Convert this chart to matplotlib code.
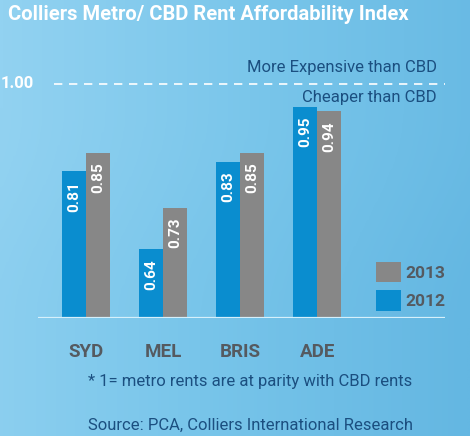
import matplotlib
matplotlib.use("Agg")
import matplotlib.pyplot as plt
import numpy as np
from matplotlib.colors import LinearSegmentedColormap

cities = ["SYD", "MEL", "BRIS", "ADE"]
idx_2012 = [0.81, 0.64, 0.83, 0.95]
idx_2013 = [0.85, 0.73, 0.85, 0.94]
parity = 1.00

blue = "#0a8dcf"
grey = "#878787"
navy = "#1b4f80"
label_grey = "#555a60"

plt.rcParams["font.family"] = ["Roboto", "DejaVu Sans"]

fig = plt.figure(figsize=(4.7, 4.36), dpi=100)

# gradient background
bg = fig.add_axes([0, 0, 1, 1], zorder=-1)
cmap = LinearSegmentedColormap.from_list("bg", ["#92d2f1", "#78c5ea", "#64b7e2"])
grad = np.linspace(0, 1, 256).reshape(1, -1)
grad = np.vstack([grad, grad + 0.15])
bg.imshow(grad, aspect="auto", cmap=cmap, extent=[0, 1, 0, 1], vmin=0, vmax=1.15)
bg.axis("off")

ax = fig.add_axes([38 / 470, 118 / 436, 407 / 470, 278 / 436])
ax.patch.set_alpha(0)
x = np.arange(len(cities))
w = 0.31
b12 = ax.bar(x - w / 2, idx_2012, w, color=blue, label="2012", zorder=2)
b13 = ax.bar(x + w / 2, idx_2013, w, color=grey, label="2013", zorder=2)

for bars, vals in [(b12, idx_2012), (b13, idx_2013)]:
    for r, v in zip(bars, vals):
        ax.annotate(f"{v:.2f}", (r.get_x() + r.get_width() / 2, v),
                    xytext=(0, -7), textcoords="offset points",
                    rotation=90, ha="center", va="top", color="white",
                    fontsize=11, fontweight="bold", zorder=3)

ax.set_xlim(-0.623, 4.66)
ax.set_ylim(0.49, 1.0957)
ax.axhline(parity, xmin=0.04, xmax=1.0, color="white", lw=1.2,
           dashes=(5, 4), zorder=1)
ax.axhline(0.49, color="#d6f0fb", lw=1.6, zorder=4)
ax.text(-0.67, parity, "1.00", ha="right", va="center", color="white",
        fontsize=12, fontweight="bold")
ax.text(4.55, parity + 0.035, "More Expensive than CBD", ha="right",
        va="center", color=navy, fontsize=12)
ax.text(4.55, parity - 0.03, "Cheaper than CBD", ha="right",
        va="center", color=navy, fontsize=12)

ax.set_xticks(x)
ax.set_xticklabels(cities, fontsize=13.5, fontweight="bold", color=label_grey)
ax.tick_params(axis="x", length=0, pad=18)
ax.set_yticks([])
for s in ax.spines.values():
    s.set_visible(False)

leg = ax.legend(handles=[b13, b12], loc="lower right",
                bbox_to_anchor=(1.04, -0.03), frameon=False,
                handlelength=1.45, handleheight=1.45, handletextpad=0.25,
                labelspacing=0.45, prop={"weight": "bold", "size": 12.5})
for t in leg.get_texts():
    t.set_color(label_grey)

fig.text(8 / 470, 1 - 15 / 436, "Colliers Metro/ CBD Rent Affordability Index",
         color="white", fontsize=14.5, fontweight="bold", va="center", ha="left")
fig.text(88 / 470, 1 - 381 / 436, "* 1= metro rents are at parity with CBD rents",
         color=navy, fontsize=12, va="center", ha="left")
fig.text(88 / 470, 1 - 425 / 436, "Source: PCA, Colliers International Research",
         color=navy, fontsize=12, va="center", ha="left")

fig.savefig("out.png", dpi=100)
